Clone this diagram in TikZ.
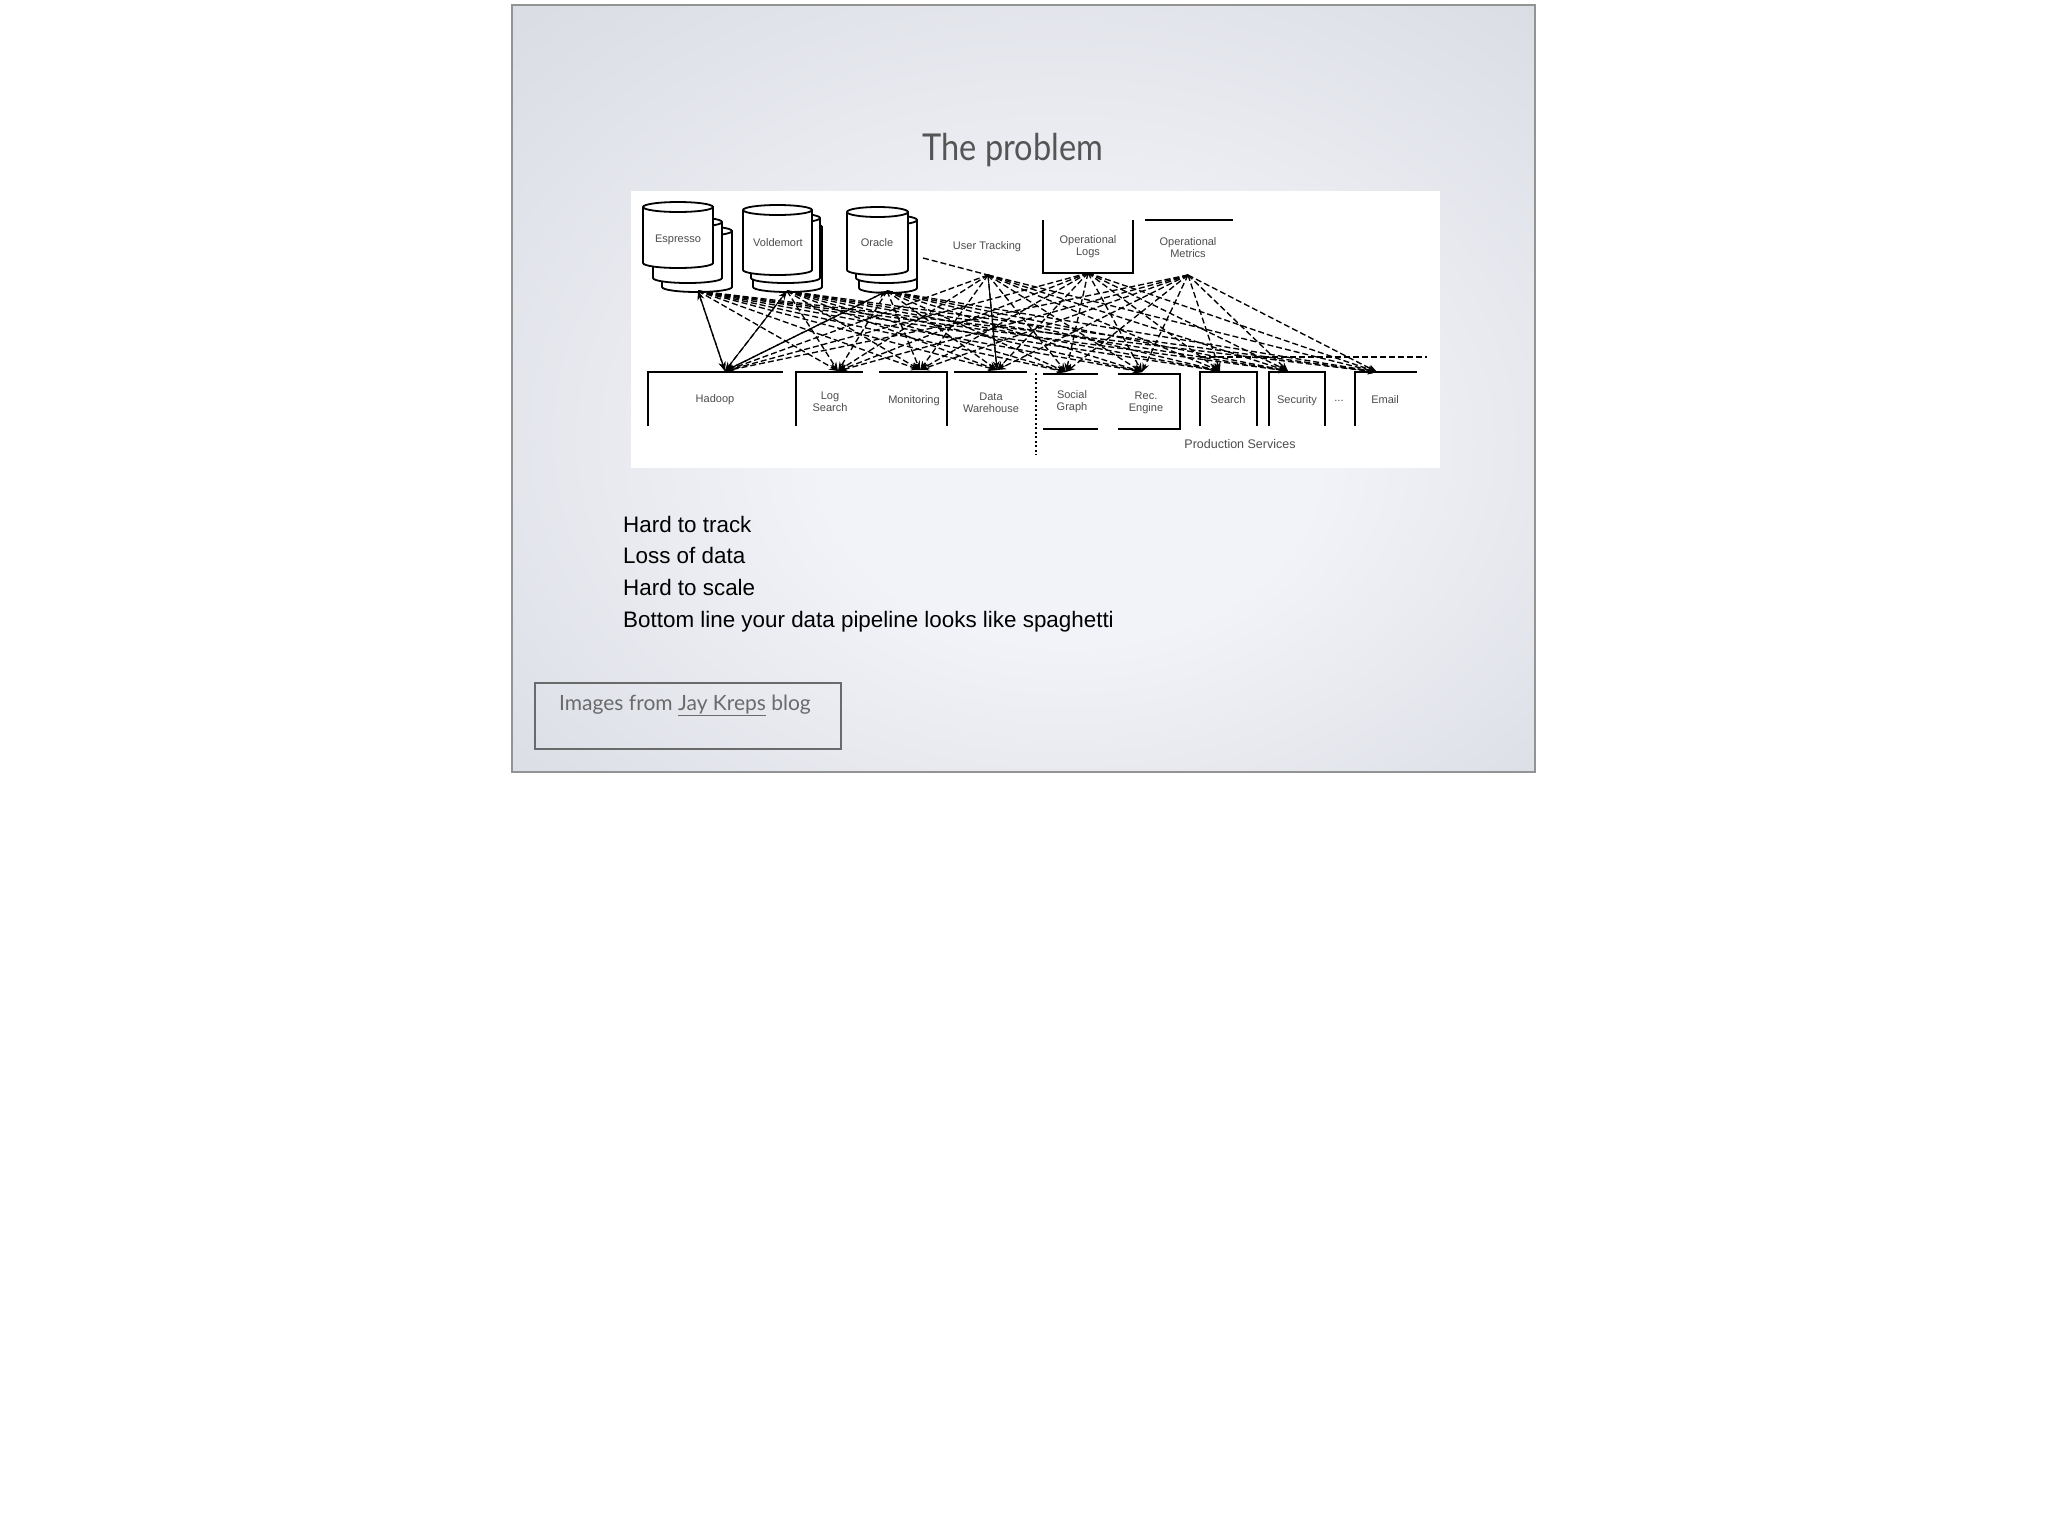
\documentclass[tikz,border=0pt]{standalone}
\usepackage{fontspec}
\setmainfont{Liberation Sans}
\newfontfamily\gill{Lato}[FakeStretch=0.88]
\newfontfamily\gillcap{Lato}
\usetikzlibrary{arrows.meta}
\definecolor{slideedge}{HTML}{DADDE4}
\definecolor{slidemid}{HTML}{F2F3F8}
\definecolor{titlegray}{HTML}{555555}
\definecolor{capgray}{HTML}{6A6A6A}
\pgfdeclareradialshading{slidebg}{\pgfpoint{3bp}{-6bp}}{color(0bp)=(slidemid); color(12bp)=(slidemid); color(36bp)=(slideedge); color(50bp)=(slideedge)}
\newcommand\dbcyl[4]{%
  \draw[cylline] (#1,#2) -- (#1,#4) arc[start angle=180,end angle=0,x radius={(#3-#1)/2},y radius=5] -- (#3,#2) arc[start angle=0,end angle=-180,x radius={(#3-#1)/2},y radius=5] -- cycle;
  \draw[cylline] (#1,#2) arc[start angle=180,end angle=0,x radius={(#3-#1)/2},y radius=5];}
\begin{document}
\begin{tikzpicture}[x=1pt,y=-1pt,
  cylline/.style={draw=black, fill=white, line width=1.8pt},
  boxline/.style={line width=2pt, black},
  lbl/.style={font=\fontsize{11}{12}\selectfont, text=black!70, align=center, inner sep=0pt},
  spag/.style={dash pattern=on 6pt off 3pt, line width=1.35pt, black, -{Stealth[length=9pt,width=7pt]}},
  bullet/.style={anchor=base west, inner sep=0pt, font=\fontsize{22.4}{27}\selectfont, text=black}]
\useasboundingbox (0,0) rectangle (2048,1527);
\fill[white] (0,0) rectangle (2048,1527);
% slide
\shade[shading=slidebg] (512,5) rectangle (1535,772);
\draw[gray!85, line width=1.2pt] (512,5) rectangle (1535,772);
% title
\node[anchor=base, inner sep=0pt, font=\gill\fontsize{37}{44}\selectfont, text=titlegray] (title) at (1013,160) {The problem};
% diagram image
\fill[white] (631,191) rectangle (1440,468);
% cylinders
\dbcyl{662}{231}{732}{287}
\dbcyl{653}{222}{722}{278}
\dbcyl{643}{207}{713}{263}
\dbcyl{753}{227}{822}{287}
\dbcyl{751}{218}{820}{278}
\dbcyl{743}{210}{812}{270}
\dbcyl{859}{230}{917}{288}
\dbcyl{856}{220}{917}{278}
\dbcyl{847}{212}{908}{270}
\node[lbl] (esp) at (678,240) {Espresso};
\node[lbl] (vol) at (778,243) {Voldemort};
\node[lbl] (ora) at (877,243) {Oracle};
\node[lbl] (ut) at (987,247) {User Tracking};
\node[lbl] (ol) at (1088,247) {Operational\\Logs};
\node[lbl] (om) at (1188,248) {Operational\\Metrics};
% source boxes
\draw[boxline] (1043,220) -- (1043,273) -- (1133,273) -- (1133,220);
\draw[boxline] (1145,220) -- (1233,220);
% destination boxes
\draw[boxline] (648,426) -- (648,372) -- (783,372);
\draw[boxline] (796,426) -- (796,372) -- (863,372);
\draw[boxline] (879,372) -- (947,372) -- (947,426);
\draw[boxline] (954,372) -- (1027,372);
\draw[boxline] (1043,374) -- (1098,374);
\draw[boxline] (1043,429) -- (1098,429);
\draw[boxline] (1118,374) -- (1180,374) -- (1180,429) -- (1118,429);
\draw[boxline] (1200,426) -- (1200,372) -- (1257,372) -- (1257,426);
\draw[boxline] (1269,426) -- (1269,372) -- (1325,372) -- (1325,426);
\draw[boxline] (1355,426) -- (1355,372) -- (1417,372);
\coordinate (dtop) at (1036,373);
\coordinate (dbot) at (1036,455);
\draw[line width=1.6pt, dash pattern=on 2pt off 2.5pt] (dtop) -- (dbot);
\node[lbl] (had) at (715,400) {Hadoop};
\node[lbl] (ls) at (830,402) {Log\\Search};
\node[lbl] (mon) at (914,401) {Monitoring};
\node[lbl] (dw) at (991,403) {Data\\Warehouse};
\node[lbl] (sg) at (1072,402) {Social\\Graph};
\node[lbl] (re) at (1146,403) {Rec.\\Engine};
\node[lbl] (se) at (1228,400) {Search};
\node[lbl] (sec) at (1297,401) {Security};
\node[lbl] (dots) at (1339,401) {...};
\node[lbl] (em) at (1385,400) {Email};
\node[lbl, font=\fontsize{12.5}{14}\selectfont] (prod) at (1240,444) {Production Services};
% connector end points
\coordinate (espo) at (698,291);
\coordinate (volo) at (787,291);
\coordinate (orao) at (887,291);
\coordinate (uth) at (988,275);
\coordinate (olh) at (1088,273);
\coordinate (omh) at (1188,275);
\coordinate (hadi) at (725,371);
\coordinate (lsi) at (838,371);
\coordinate (moni) at (920,370);
\coordinate (dwi) at (997,370);
\coordinate (sgi) at (1066,372);
\coordinate (rei) at (1142,372);
\coordinate (sei) at (1220,371);
\coordinate (seci) at (1288,371);
\coordinate (emi) at (1377,372);
\coordinate (orar) at (923,258);
\coordinate (hl) at (1200,357);
\coordinate (hr) at (1427,357);
% spaghetti
\foreach \s in {espo,volo,orao,uth,olh,omh}{
  \foreach \t in {hadi,lsi,moni,dwi,sgi,rei,sei,seci,emi}{
    \draw[spag] (\s) -- (\t);
  }
}
\draw[spag, {Stealth[length=9pt,width=7pt]}-{Stealth[length=9pt,width=7pt]}] (espo) -- (hadi);
\draw[line width=1pt, -{Stealth[length=9pt,width=7pt]}] (hadi) -- (volo);
\draw[spag] (hadi) -- (orao);
\draw[line width=1pt] (uth) -- (dwi);
\draw[dash pattern=on 6pt off 3pt, line width=1.35pt] (orar) -- (uth);
\draw[dash pattern=on 6pt off 3pt, line width=1.35pt] (hl) -- (hr);
% bullets
\node[bullet] (b1) at (623,532) {Hard to track};
\node[bullet] (b2) at (623,563) {Loss of data};
\node[bullet] (b3) at (623,595) {Hard to scale};
\node[bullet] (b4) at (623,627) {Bottom line your data pipeline looks like spaghetti};
% caption
\draw[capgray, line width=1.5pt] (535,683) rectangle (841,749);
\node[anchor=base west, inner sep=0pt, font=\gillcap\fontsize{21}{25}\selectfont, text=capgray] (cap) at (559,710) {Images from \underline{Jay Kreps} blog};
\end{tikzpicture}
\end{document}
